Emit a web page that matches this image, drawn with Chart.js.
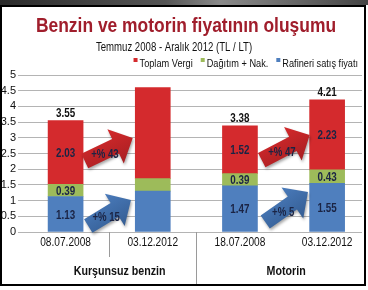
<!DOCTYPE html>
<html><head><meta charset="utf-8">
<script src="https://cdn.jsdelivr.net/npm/chart.js@4/dist/chart.umd.min.js"></script>
<style>html,body{margin:0;padding:0;background:#fff}#wrap{width:368px;height:290px;position:relative}</style>
</head><body><div id="wrap"><canvas id="c"></canvas></div>
<script>
const categories = ['08.07.2008', '03.12.2012', '18.07.2008', '03.12.2012'];
const groups = ['Kurşunsuz benzin', 'Motorin'];
const titleText = 'Benzin ve motorin fiyatının oluşumu';
const subtitleText = 'Temmuz 2008 - Aralık 2012 (TL / LT)';
const seriesNames = ['Rafineri satış fiyatı', 'Dağıtım + Nak.', 'Toplam Vergi'];
const rafineri = [1.13, 1.30, 1.47, 1.55];
const dagitim = [0.39, 0.40, 0.39, 0.43];
const vergi = [2.03, 2.90, 1.52, 2.23];
const totals = [3.55, 4.60, 3.38, 4.21];
const showLabels = [true, false, true, true];
const changeLabels = ['+% 43', '+% 15', '+% 47', '+% 5'];
const yTicks = [0, 0.5, 1, 1.5, 2, 2.5, 3, 3.5, 4, 4.5, 5];
// arrows in data units: [fromX, fromY, toX, toY]
const arrowRed1 = [0.22, 2.26, 0.77, 2.99];
const arrowBlue1 = [0.26, 0.19, 0.75, 1.02];
const arrowRed2 = [2.25, 2.29, 2.80, 3.09];
const arrowBlue2 = [2.29, 0.32, 2.78, 1.27];

const FONT = '"Liberation Sans","Arial",sans-serif';
const RED = '#d42a2d', GREEN = '#9dbb5a', BLUE = '#4f7fbe';
const COLORS = [BLUE, GREEN, RED];

const toXY = arr => arr.map((v, i) => ({x: i, y: v}));

function cText(ctx, txt, x, y, font, sx, align) {
  ctx.save(); ctx.font = font; ctx.translate(x, y); ctx.scale(sx, 1);
  ctx.textAlign = align || 'left'; ctx.fillText(txt, 0, 0); ctx.restore();
}

const decor = {
  id: 'decor',
  beforeDraw(chart) {
    const ctx = chart.ctx, W = chart.width, H = chart.height;
    ctx.save();
    ctx.fillStyle = '#fff'; ctx.fillRect(0, 0, W, H);
    const g = ctx.createLinearGradient(0, 0, W, 0);
    g.addColorStop(0, '#2b2b2b'); g.addColorStop(0.45, '#555'); g.addColorStop(0.6, '#8a8a8a'); g.addColorStop(1, '#444');
    ctx.fillStyle = g; ctx.fillRect(0, 0, W, 5);
    // title
    ctx.textBaseline = 'alphabetic';
    ctx.fillStyle = '#a01e2c';
    cText(ctx, titleText, 186, 32, 'bold 21px ' + FONT, 0.83, 'center');
    ctx.fillStyle = '#111';
    cText(ctx, subtitleText, 174, 51, '12px ' + FONT, 0.8, 'center');
    // legend (right aligned)
    const lf = '11.5px ' + FONT, sx = 0.8;
    ctx.font = lf;
    const items = [2, 1, 0];
    let widths = items.map(i => ctx.measureText(seriesNames[i]).width * sx);
    let xPos = 358;
    const starts = [];
    for (let k = items.length - 1; k >= 0; k--) {
      const textStart = xPos - widths[k];
      starts[k] = textStart;
      xPos = textStart - 6 - 8;
    }
    items.forEach((si, k) => {
      ctx.fillStyle = COLORS[si];
      ctx.fillRect(starts[k] - 6, 58, 4, 4);
      ctx.fillStyle = '#111';
      cText(ctx, seriesNames[si], starts[k], 67, lf, sx, 'left');
    });
    ctx.restore();
  },
  afterDatasetsDraw(chart) {
    const ctx = chart.ctx, x = chart.scales.x, y = chart.scales.y;
    const series = [rafineri, dagitim, vergi];
    ctx.save();
    ctx.textBaseline = 'middle';
    const lf = 'bold 12px ' + FONT;
    series.forEach((arr, di) => {
      arr.forEach((v, i) => {
        if (!showLabels[i]) return;
        let base = 0;
        for (let k = 0; k < di; k++) base += series[k][i];
        ctx.fillStyle = '#1b2444';
        cText(ctx, v.toFixed(2), x.getPixelForValue(i), y.getPixelForValue(base + v / 2) + 1, lf, 0.82, 'center');
      });
    });
    ctx.fillStyle = '#111';
    totals.forEach((t, i) => {
      if (!showLabels[i]) return;
      cText(ctx, t.toFixed(2), x.getPixelForValue(i), y.getPixelForValue(t) - 7, lf, 0.82, 'center');
    });
    const arrows = [[arrowRed1, '#d3292b', '#a81f22', changeLabels[0]],
                    [arrowBlue1, '#4a7bbb', '#345d93', changeLabels[1]],
                    [arrowRed2, '#d3292b', '#a81f22', changeLabels[2]],
                    [arrowBlue2, '#4a7bbb', '#345d93', changeLabels[3]]];
    arrows.forEach(([a, fill, dark, txt]) => {
      const x1 = x.getPixelForValue(a[0]), y1 = y.getPixelForValue(a[1]);
      const x2 = x.getPixelForValue(a[2]), y2 = y.getPixelForValue(a[3]);
      const L = Math.hypot(x2 - x1, y2 - y1), ang = Math.atan2(y2 - y1, x2 - x1);
      const sw = 8, hw = 19, hl = 19;
      ctx.save();
      ctx.translate(x1, y1); ctx.rotate(ang);
      ctx.beginPath();
      ctx.moveTo(0, -sw); ctx.lineTo(L - hl, -sw); ctx.lineTo(L - hl, -hw); ctx.lineTo(L, 0);
      ctx.lineTo(L - hl, hw); ctx.lineTo(L - hl, sw); ctx.lineTo(0, sw); ctx.closePath();
      ctx.shadowColor = 'rgba(0,0,0,0.35)'; ctx.shadowBlur = 3; ctx.shadowOffsetX = 1; ctx.shadowOffsetY = 2;
      const gr = ctx.createLinearGradient(0, -hw, 0, hw);
      gr.addColorStop(0, fill); gr.addColorStop(1, dark);
      ctx.fillStyle = gr; ctx.fill();
      ctx.restore();
      const t = 0.42;
      ctx.fillStyle = '#1b2444';
      cText(ctx, txt, x1 + (x2 - x1) * t, y1 + (y2 - y1) * t + 3, lf, 0.8, 'center');
    });
    ctx.restore();
  },
  afterDraw(chart) {
    const ctx = chart.ctx, x = chart.scales.x, area = chart.chartArea, W = chart.width, H = chart.height;
    ctx.save();
    ctx.strokeStyle = '#9a9a9a'; ctx.lineWidth = 1;
    let px = Math.round(x.getPixelForValue(0.5)) + 0.5;
    ctx.beginPath(); ctx.moveTo(px, area.bottom); ctx.lineTo(px, area.bottom + 25); ctx.stroke();
    px = Math.round(x.getPixelForValue(1.5)) + 0.5;
    ctx.beginPath(); ctx.moveTo(px, area.bottom); ctx.lineTo(px, H - 4); ctx.stroke();
    ctx.fillStyle = '#111'; ctx.textBaseline = 'middle';
    cText(ctx, groups[0], x.getPixelForValue(0.62), area.bottom + 39, 'bold 13px ' + FONT, 0.82, 'center');
    cText(ctx, groups[1], x.getPixelForValue(2.53), area.bottom + 39, 'bold 13px ' + FONT, 0.82, 'center');
    // category labels
    categories.forEach((c, i) => {
      cText(ctx, c, x.getPixelForValue(i), area.bottom + 10, '13px ' + FONT, 0.78, 'center');
    });
    // frame
    ctx.strokeStyle = '#000'; ctx.lineWidth = 2;
    ctx.strokeRect(1, 6, W - 4, H - 11);
    ctx.restore();
  }
};

new Chart(document.getElementById('c'), {
  type: 'bar',
  data: {
    datasets: [
      {label: seriesNames[0], data: toXY(rafineri), backgroundColor: BLUE, barThickness: 35},
      {label: seriesNames[1], data: toXY(dagitim), backgroundColor: GREEN, barThickness: 35},
      {label: seriesNames[2], data: toXY(vergi), backgroundColor: RED, barThickness: 35}
    ]
  },
  options: {
    responsive: true, maintainAspectRatio: false, animation: false,
    layout: {padding: {left: 0, right: 6, top: 75, bottom: 0}},
    plugins: {
      title: {display: false},
      legend: {display: false},
      tooltip: {enabled: false}
    },
    scales: {
      x: {type: 'linear', stacked: true, min: -0.5, max: 3.4, offset: false,
        grid: {display: false, drawTicks: false}, border: {display: false},
        afterBuildTicks: s => { s.ticks = categories.map((c, i) => ({value: i})); },
        afterFit: s => { s.height = 58; },
        ticks: {display: false}},
      y: {stacked: true, min: 0, max: 5,
        afterFit: s => { s.width = 22; },
        afterBuildTicks: s => { s.ticks = yTicks.map(v => ({value: v})); },
        grid: {color: '#b4b4b4', tickLength: 4, drawTicks: true},
        border: {display: false},
        ticks: {autoSkip: false, padding: 2, color: '#111', font: {family: FONT, size: 11},
          callback: v => String(v)}}
    }
  },
  plugins: [decor]
});
</script></body></html>
